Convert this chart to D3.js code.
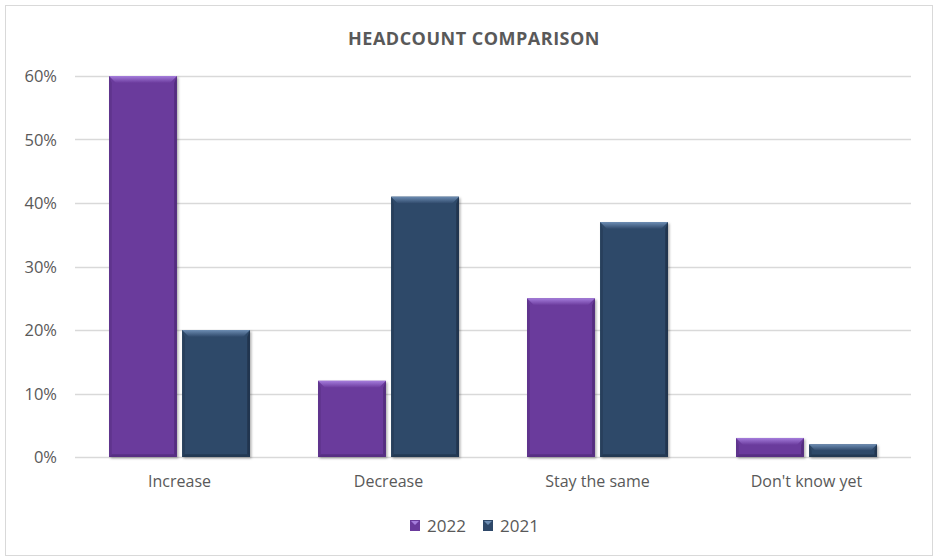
<!DOCTYPE html>
<html><head><meta charset="utf-8">
<script src="https://cdn.jsdelivr.net/npm/d3@7"></script>
<style>body{margin:0;background:#fff;}svg{display:block;font-family:"Open Sans","Liberation Sans",sans-serif;}</style>
</head><body><svg id="c" width="939" height="558"></svg>
<script>
const categories = ["Increase","Decrease","Stay the same","Don't know yet"];
const seriesNames = ["2022","2021"];
const values2022 = [60,12,25,3];
const values2021 = [20,41,37,2];
const yTicks = [0,10,20,30,40,50,60];
const colors = {"2022":"#6a3a9c","2021":"#2e4869"};
const light = {"2022":"#a57ddc","2021":"#6d8db3"};
const dark = {"2022":"#4b2873","2021":"#1c2e45"};

const svg = d3.select("#c");
svg.append("rect").attr("x",5.5).attr("y",5.5).attr("width",927).attr("height",550)
  .attr("fill","#fff").attr("stroke","#d9d9d9").attr("stroke-width",1);

const x0 = d3.scaleBand().domain(categories).range([75,911]).paddingInner(0).paddingOuter(0);
const x1 = d3.scaleBand().domain(seriesNames).range([0,141]).paddingInner(0.07);
const y = d3.scaleLinear().domain([0,60]).range([457,76]);

// gridlines
svg.append("g").selectAll("line").data(yTicks).join("line")
  .attr("x1",75).attr("x2",911).attr("y1",d=>Math.round(y(d))+0.5).attr("y2",d=>Math.round(y(d))+0.5)
  .attr("stroke","#d9d9d9").attr("stroke-width",1.3);

// y labels
svg.append("g").selectAll("text").data(yTicks).join("text")
  .attr("x",57).attr("y",d=>y(d)+6).attr("text-anchor","end")
  .attr("font-size",16.5).attr("fill","#595959").text(d=>d+"%");

// title
svg.append("text").attr("x",474).attr("y",45).attr("text-anchor","middle")
  .attr("font-size",18).attr("font-weight","bold").attr("fill","#595959")
  .attr("letter-spacing",0.5).text("HEADCOUNT COMPARISON");

const data = [];
categories.forEach((c,i)=>{
  data.push({cat:c,s:"2022",v:values2022[i]});
  data.push({cat:c,s:"2021",v:values2021[i]});
});

const defs = svg.append("defs");
const f = defs.append("filter").attr("id","sh").attr("x","-20%").attr("y","-20%").attr("width","140%").attr("height","140%");
f.append("feDropShadow").attr("dx",1.5).attr("dy",1.5).attr("stdDeviation",1.2).attr("flood-color","#000").attr("flood-opacity",0.3);
seriesNames.forEach(s=>{
  const lg = defs.append("linearGradient").attr("id","g"+s).attr("x1",0).attr("x2",0).attr("y1",0).attr("y2",1);
  lg.append("stop").attr("offset",0).attr("stop-color",light[s]);
  lg.append("stop").attr("offset",1).attr("stop-color",colors[s]);
});

const groupOffset = (x0.bandwidth()-141)/2;
const bars = svg.append("g").selectAll("g").data(data).join("g")
  .attr("transform",d=>`translate(${x0(d.cat)+groupOffset+x1(d.s)},${y(d.v)})`);

bars.each(function(d){
  const g = d3.select(this);
  const w = x1.bandwidth();
  const h = y(0)-y(d.v);
  const b = Math.min(7, h/2);
  g.append("rect").attr("width",w).attr("height",h).attr("fill",colors[d.s]).attr("filter","url(#sh)");
  // left bevel
  g.append("polygon").attr("points",`0,0 ${b*0.4},${b} ${b*0.4},${h-b*0.4} 0,${h}`).attr("fill",dark[d.s]).attr("opacity",0.35);
  // right bevel
  g.append("polygon").attr("points",`${w},0 ${w-b*0.4},${b} ${w-b*0.4},${h-b*0.4} ${w},${h}`).attr("fill",dark[d.s]).attr("opacity",0.7);
  // bottom bevel
  g.append("polygon").attr("points",`0,${h} ${b*0.4},${h-b*0.4} ${w-b*0.4},${h-b*0.4} ${w},${h}`).attr("fill",dark[d.s]).attr("opacity",0.6);
  // top bevel
  g.append("polygon").attr("points",`0,0 ${w},0 ${w-b},${b} ${b},${b}`).attr("fill",`url(#g${d.s})`);
});

// category labels
svg.append("g").selectAll("text").data(categories).join("text")
  .attr("x",d=>x0(d)+x0.bandwidth()/2).attr("y",487).attr("text-anchor","middle")
  .attr("font-size",16).attr("fill","#595959").text(d=>d);

// legend
const leg = svg.append("g");
const legItems = [{s:"2022",x:410},{s:"2021",x:483}];
legItems.forEach(it=>{
  const g = leg.append("g").attr("transform",`translate(${it.x},${520})`);
  g.append("rect").attr("width",10).attr("height",11).attr("fill",colors[it.s]);
  g.append("polygon").attr("points","1,1 9,1 5,5").attr("fill",light[it.s]);
  g.append("text").attr("x",17).attr("y",11.5).attr("font-size",17).attr("fill","#595959").text(it.s);
});
</script></body></html>
